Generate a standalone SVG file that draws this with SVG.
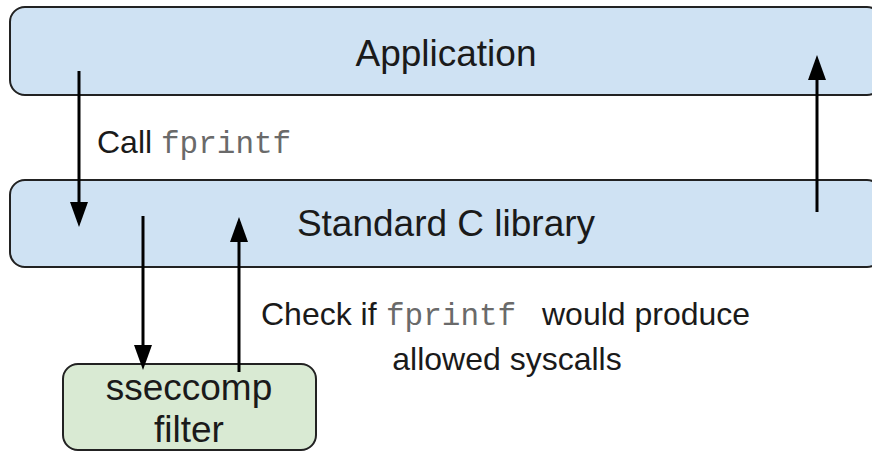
<svg xmlns="http://www.w3.org/2000/svg" width="872" height="452" viewBox="0 0 872 452">
  <style>
    .layer { fill: #cfe2f3; stroke: #222; stroke-width: 2; }
    .filter { fill: #d9ead3; stroke: #222; stroke-width: 2; }
    .title { font-family: "Liberation Sans", Arial, sans-serif; font-size: 37px; fill: #1a1a1a; text-anchor: middle; }
    .label { font-family: "Liberation Sans", Arial, sans-serif; font-size: 32px; fill: #1a1a1a; }
    .code { font-family: "Liberation Mono", "Courier New", monospace; font-size: 31px; fill: #6a6a6a; }
    .flow { stroke: #000; stroke-width: 3; fill: none; marker-end: url(#head); }
  </style>
  <defs>
    <marker id="head" markerUnits="userSpaceOnUse" markerWidth="26" markerHeight="19" refX="20" refY="9" orient="auto">
      <path d="M0,0 L25,9 L0,18 Z" fill="#000"/>
    </marker>
  </defs>

  <rect width="872" height="452" fill="#fff"/>

  <g id="application">
    <rect class="layer" x="10" y="7" width="872" height="88" rx="15"/>
    <text class="title" x="446" y="66">Application</text>
  </g>

  <g id="libc">
    <rect class="layer" x="10" y="180" width="872" height="87" rx="15"/>
    <text class="title" x="446" y="236">Standard C library</text>
  </g>

  <g id="seccomp-filter">
    <rect class="filter" x="63" y="364" width="253" height="86" rx="15"/>
    <text class="title" x="189" y="400">sseccomp</text>
    <text class="title" x="189" y="442">filter</text>
  </g>

  <g id="connectors">
    <line class="flow" x1="79" y1="71" x2="79" y2="222"/>
    <line class="flow" x1="143" y1="216" x2="143" y2="365"/>
    <line class="flow" x1="239" y1="372" x2="239" y2="222"/>
    <line class="flow" x1="817" y1="212" x2="817" y2="60"/>
  </g>

  <g id="labels">
    <text class="label" x="97" y="153">Call <tspan class="code" x="161">fprintf</tspan></text>
    <text class="label" x="261" y="325">Check if <tspan class="code" x="386">fprintf</tspan><tspan x="542">would produce</tspan></text>
    <text class="label" x="507" y="370" text-anchor="middle">allowed syscalls</text>
  </g>
</svg>
